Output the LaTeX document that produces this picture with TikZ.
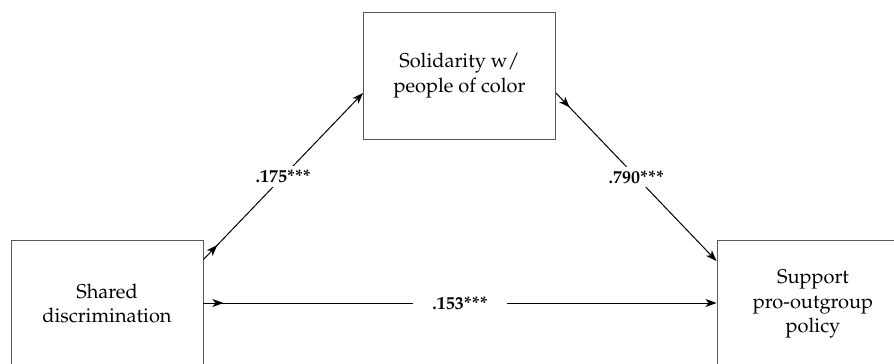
\documentclass[tikz,border=0pt]{standalone}
\usepackage[T1]{fontenc}
\usepackage{mathpazo}
\usetikzlibrary{arrows.meta,decorations.markings,calc}
\tikzset{
  varbox/.style={draw=black!65, line width=0.9pt, minimum width=192pt, minimum height=127pt, align=center, font=\fontsize{20}{24.5}\selectfont, inner sep=0pt},
  patharrow/.style={draw=black, line width=1pt, -{Stealth[length=11pt,width=8pt,inset=3pt]},
    decoration={markings, mark=at position 20pt with {\arrow{Stealth[length=11pt,width=8pt,inset=3pt]}}},
    postaction=decorate},
  coef/.style={fill=white, font=\fontsize{18}{22}\selectfont\bfseries, inner sep=4pt}
}
\begin{document}
\begin{tikzpicture}[x=1pt,y=-1pt]
\clip (0,0) rectangle (894,364);
\fill[white] (0,0) rectangle (894,364);
\node[varbox] (L) at (107,303.5) {Shared\\discrimination};
\node[varbox] (T) at (459.5,75.5) {Solidarity w/\\people of color};
\node[varbox] (R) at (813,304) {Support\\pro-outgroup\\policy};
\coordinate (a1) at ($(L.north east)+(0,20)$);
\coordinate (a2) at ($(T.west)+(0,17.5)$);
\coordinate (b1) at ($(T.east)+(0,17.5)$);
\coordinate (b2) at ($(R.north west)+(0,21)$);
\draw[patharrow] (a1) -- node[coef] {.175***} (a2);
\draw[patharrow] (b1) -- node[coef] {.790***} (b2);
\draw[patharrow] (L.east |- 0,303) -- node[coef, inner xsep=19pt] {.153***} (R.west |- 0,303);
\end{tikzpicture}
\end{document}
